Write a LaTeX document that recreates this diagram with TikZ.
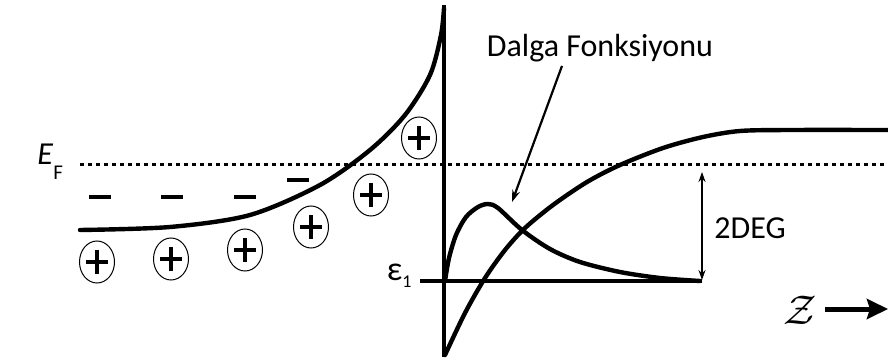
\documentclass[tikz,border=0pt]{standalone}
\usepackage{fontspec}
\setmainfont{Carlito}
\usetikzlibrary{shapes.geometric, arrows.meta, positioning}

\begin{document}
\begin{tikzpicture}[
        x=0.5pt, y=-0.5pt,
        band/.style={line width=2.2pt, line join=round, line cap=round},
        fermi/.style={line width=1.5pt, dash pattern=on 2.2pt off 1.8pt},
        ion/.style={ellipse, draw, line width=0.5pt, minimum width=17.5pt, minimum height=21pt, inner sep=0pt,
            path picture={
                \draw[line width=2.3pt] ([xshift=-5.5pt]path picture bounding box.center) -- ([xshift=5.5pt]path picture bounding box.center);
                \draw[line width=2.3pt] ([yshift=-6pt]path picture bounding box.center) -- ([yshift=6pt]path picture bounding box.center);}},
        electron/.style={rectangle, fill=black, minimum width=11pt, minimum height=2.4pt, inner sep=0pt},
        lbl/.style={font=\fontsize{16}{18}\selectfont, inner sep=0pt},
        arrow/.style={-{Stealth[length=6pt, width=4pt]}, line width=1.1pt},
        darrow/.style={{Stealth[length=5pt, width=3.5pt]}-{Stealth[length=5pt, width=3.5pt]}, line width=1.1pt},
        zarrow/.style={-{Stealth[length=10.5pt, width=10pt, inset=1.5pt]}, line width=2.5pt}
    ]
        \useasboundingbox (0,0) rectangle (888,363);

        % interface and Fermi level
        \coordinate (axtop) at (444,5);
        \coordinate (axbot) at (444,357);
        \draw[line width=2pt] (axtop) -- (axbot);
        \coordinate (efl) at (80,165);
        \coordinate (efr) at (888,165);
        \draw[fermi] (efl) -- (efr);
        \node[lbl, anchor=base west] (ef) at (37,165) {\textit{E}\raisebox{-7.5pt}{\fontsize{10.5}{12}\selectfont F}};

        % band edges
        \draw[band] plot[smooth] coordinates {(80,230) (170,227) (250,215) (320,185) (370,150) (405,115) (430,75) (441,35) (444,8)};
        \draw[band] plot[smooth] coordinates {(445,355) (465,313) (485,278) (505,250) (525,228) (553,205) (587,182) (620,165) (663,148) (703,137) (740,131) (790,130) (888,130)};

        % wave function
        \draw[band] plot[smooth] coordinates {(445,281) (449,258) (456,235) (466,217) (478,207) (488,204) (498,208) (522,230) (550,249) (580,262) (620,272) (660,278) (700,281)};

        % subband level
        \node[lbl, anchor=base east] (eps) at (412,280) {\fontsize{17}{18}\selectfont ε\raisebox{-3.5pt}{\fontsize{9}{10}\selectfont 1}};
        \coordinate (e1r) at (702,281);
        \draw[line width=1.6pt] ([xshift=4pt]eps.east |- e1r) -- (e1r);

        % ionized donors and electrons
        \node[ion] (d1) at (97,262) {};
        \node[ion] (d2) at (171,259) {};
        \node[ion] (d3) at (245,250) {};
        \node[ion] (d4) at (311,227) {};
        \node[ion] (d5) at (371,195) {};
        \node[ion] (d6) at (419,138) {};
        \node[electron] (m1) at (100,197) {};
        \node[electron] (m2) at (172,197) {};
        \node[electron] (m3) at (245,197) {};
        \node[electron] (m4) at (298,180) {};

        % labels
        \node[lbl, anchor=base] (dalga) at (600,57) {Dalga Fonksiyonu};
        \coordinate (wftip) at (512,202);
        \draw[arrow] ([xshift=-19pt, yshift=-1.5pt]dalga.south) -- (wftip);

        \coordinate (degtop) at (702,172);
        \coordinate (degbot) at (702,280);
        \draw[darrow] (degtop) -- (degbot);
        \node[lbl, anchor=west] (deg) at (714,228) {2DEG};

        \node[font=\fontsize{22}{24}\selectfont, inner sep=0pt] (zlab) at (800,310) {$\mathcal{Z}$};
        \coordinate (zend) at (888,309);
        \draw[zarrow] ([xshift=4pt]zlab.east |- zend) -- (zend);
\end{tikzpicture}
\end{document}
